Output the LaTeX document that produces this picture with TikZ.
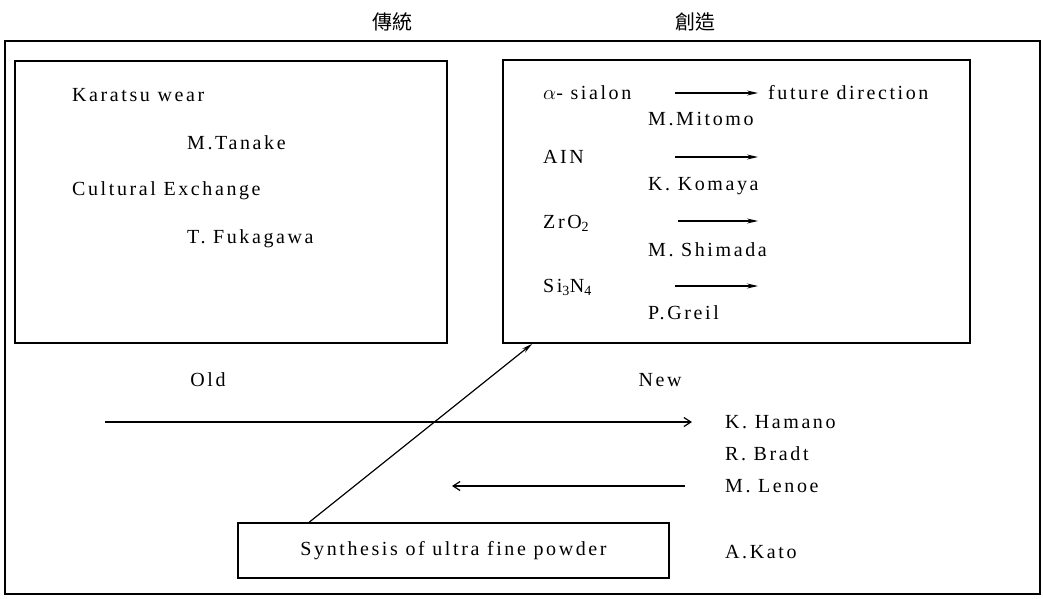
\documentclass[tikz,border=0pt]{standalone}
\usepackage{fontspec}
\setmainfont{Liberation Serif}[LetterSpace=13]
\newfontfamily\cjk{Noto Sans CJK TC}
\usetikzlibrary{arrows.meta}
\begin{document}
\begin{tikzpicture}[x=1pt,y=-1pt,
    font=\fontsize{20}{22}\selectfont,
    txt/.style={anchor=west,inner sep=0pt},
    head/.style={font=\cjk\fontsize{20}{22}\selectfont},
    box/.style={draw,line width=1.6pt,inner sep=0pt},
    pointer/.style={line width=1.2pt,-{Stealth[length=11pt,width=5pt]}},
    barb/.style={line width=1.2pt,-{Straight Barb[length=7pt,width=9pt]}}]
  \useasboundingbox (0,0) rectangle (1043,598);
  \node[head] (trad) at (392,22) {傳統};
  \node[head] (crea) at (695,22) {創造};
  \node[box,line width=2pt,minimum width=1035,minimum height=553] (frame) at (522.5,317.5) {};
  \node[box,minimum width=432,minimum height=282] (oldbox) at (231,202) {};
  \node[box,minimum width=467,minimum height=283] (newbox) at (736.5,201.5) {};
  \node[box,minimum width=431,minimum height=55] (synth) at (453.5,550.5) {Synthesis of ultra fine powder};
  \node[txt] (karatsu) at (72,95) {Karatsu wear};
  \node[txt] (tanake) at (187,143) {M.Tanake};
  \node[txt] (cultural) at (72,191) {Cultural Exchange};
  \node[txt] (fukagawa) at (187,239) {T. Fukagawa};
  \node[txt] (sialon) at (543,93) {$\alpha$- sialon};
  \node[txt] (future) at (768,93) {future direction};
  \node[txt] (mitomo) at (648,119) {M.Mitomo};
  \node[txt] (aln) at (543,157) {AIN};
  \node[txt] (komaya) at (648,186) {K. Komaya};
  \node[txt] (zro) at (543,223) {ZrO\textsubscript{2}};
  \node[txt] (shimada) at (648,250) {M. Shimada};
  \node[txt] (sin) at (543,287) {Si\textsubscript{3}N\textsubscript{4}};
  \node[txt] (greil) at (648,313) {P.Greil};
  \node (old) at (208,380) {Old};
  \node (new) at (660,380) {New};
  \node[txt] (hamano) at (725,422) {K. Hamano};
  \node[txt] (bradt) at (725,454) {R. Bradt};
  \node[txt] (lenoe) at (725,486) {M. Lenoe};
  \node[txt] (kato) at (725,552) {A.Kato};
  \coordinate (alnend) at (758,157);
  \coordinate (zroend) at (758,221);
  \coordinate (sinend) at (758,286);
  \coordinate (oldstart) at (105,422);
  \coordinate (lenoeend) at (452,486);
  \draw[pointer] ([xshift=-93pt]future.west) -- ([xshift=-10pt]future.west);
  \draw[pointer] ([xshift=-83pt]alnend) -- (alnend);
  \draw[pointer] ([xshift=-80pt]zroend) -- (zroend);
  \draw[pointer] ([xshift=-83pt]sinend) -- (sinend);
  \draw[barb] (oldstart) -- ([xshift=-33pt]hamano.west);
  \draw[barb] ([xshift=-40pt]lenoe.west) -- (lenoeend);
  \draw[pointer] ([xshift=72pt]synth.north west) -- ([xshift=30pt]newbox.south west);
\end{tikzpicture}
\end{document}
